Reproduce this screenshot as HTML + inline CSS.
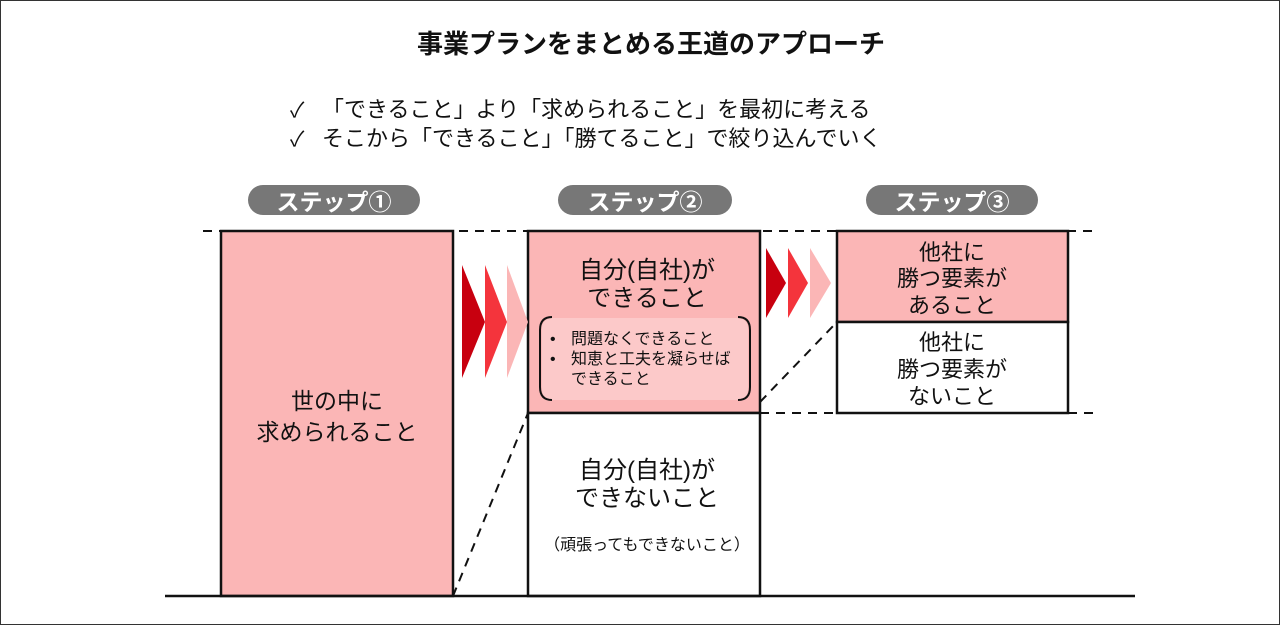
<!DOCTYPE html>
<html><head><meta charset="utf-8"><style>
html,body{margin:0;padding:0;background:#fff}
svg{display:block}
text{font-family:"Liberation Sans","Noto Sans CJK JP",sans-serif;fill:#111}
</style></head><body>
<svg width="1280" height="625" viewBox="0 0 1280 625">
<rect x="0.5" y="0.5" width="1279" height="624" fill="#fff" stroke="#333" stroke-width="1"/>
<text x="651" y="53" font-size="26" font-weight="bold" text-anchor="middle">事業プランをまとめる王道のアプローチ</text>
<text x="290" y="117" font-size="21">✓</text>
<text x="322" y="117" font-size="22">「できること」より「求められること」を最初に考える</text>
<text x="290" y="146" font-size="21">✓</text>
<text x="322" y="146" font-size="22">そこから「できること」「勝てること」で絞り込んでいく</text>

<rect x="248" y="185" width="172" height="30" rx="15" fill="#777"/>
<text x="334" y="210" font-size="23" font-weight="bold" text-anchor="middle" style="fill:#fff">ステップ①</text>
<rect x="558" y="185" width="174" height="30" rx="15" fill="#777"/>
<text x="645" y="210" font-size="23" font-weight="bold" text-anchor="middle" style="fill:#fff">ステップ②</text>
<rect x="866" y="185" width="172" height="30" rx="15" fill="#777"/>
<text x="952" y="210" font-size="23" font-weight="bold" text-anchor="middle" style="fill:#fff">ステップ③</text>

<g stroke="#111" stroke-width="2" stroke-dasharray="9,7" fill="none">
<line x1="203" y1="231" x2="1098" y2="231"/>
<line x1="760" y1="413" x2="837" y2="413"/>
<line x1="1068" y1="413" x2="1098" y2="413"/>
<line x1="453" y1="596" x2="528" y2="413"/>
<line x1="760" y1="402" x2="837" y2="322"/>
</g>

<rect x="221" y="231" width="232" height="365" fill="#fbb6b6" stroke="#111" stroke-width="2.5"/>
<rect x="528" y="231" width="232" height="182" fill="#fbb6b6" stroke="#111" stroke-width="2.5"/>
<rect x="528" y="413" width="232" height="183" fill="#fff" stroke="#111" stroke-width="2.5"/>
<rect x="837" y="231" width="231" height="91" fill="#fbb6b6" stroke="#111" stroke-width="2.5"/>
<rect x="837" y="322" width="231" height="91" fill="#fff" stroke="#111" stroke-width="2.5"/>
<line x1="165" y1="596" x2="1135" y2="596" stroke="#111" stroke-width="2.5"/>

<polygon points="462,265 485,322 462,378" fill="#c8000f"/>
<polygon points="485,265 507,322 485,378" fill="#f4343c"/>
<polygon points="507,265 528,322 507,378" fill="#fbb6b6"/>
<polygon points="766,248 786,283 766,318" fill="#c8000f"/>
<polygon points="788,248 808,283 788,318" fill="#f4343c"/>
<polygon points="810,248 831,283 810,318" fill="#fbb6b6"/>

<rect x="542" y="318" width="206" height="82" rx="10" fill="#fcc9c9"/>
<path d="M552,317 Q540,317 540,330 L540,387 Q540,400 552,400" stroke="#111" stroke-width="2" fill="none"/>
<path d="M738,317 Q750,317 750,330 L750,387 Q750,400 738,400" stroke="#111" stroke-width="2" fill="none"/>

<text x="337" y="409" font-size="23" text-anchor="middle">世の中に</text>
<text x="337" y="440" font-size="23" text-anchor="middle">求められること</text>
<text x="647" y="278" font-size="24" text-anchor="middle">自分(自社)が</text>
<text x="647" y="306" font-size="24" text-anchor="middle">できること</text>
<text x="550" y="344" font-size="16">•</text><text x="571" y="344" font-size="16">問題なくできること</text>
<text x="550" y="364" font-size="16">•</text><text x="571" y="364" font-size="16">知恵と工夫を凝らせば</text>
<text x="571" y="384" font-size="16">できること</text>
<text x="647" y="478" font-size="24" text-anchor="middle">自分(自社)が</text>
<text x="647" y="506" font-size="24" text-anchor="middle">できないこと</text>
<text x="647" y="550" font-size="16" text-anchor="middle">（頑張ってもできないこと）</text>
<text x="952" y="260" font-size="22" text-anchor="middle">他社に</text>
<text x="952" y="286" font-size="22" text-anchor="middle">勝つ要素が</text>
<text x="952" y="313" font-size="22" text-anchor="middle">あること</text>
<text x="952" y="350" font-size="22" text-anchor="middle">他社に</text>
<text x="952" y="377" font-size="22" text-anchor="middle">勝つ要素が</text>
<text x="952" y="404" font-size="22" text-anchor="middle">ないこと</text>
</svg>
</body></html>
